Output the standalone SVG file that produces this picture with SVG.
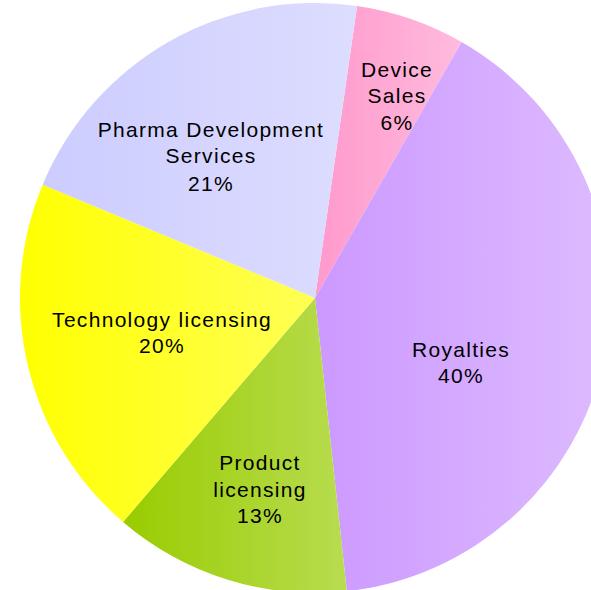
<svg xmlns="http://www.w3.org/2000/svg" width="591" height="590" viewBox="0 0 591 590">
<defs>
<linearGradient id="gPharma" x1="0" y1="0" x2="1" y2="0"><stop offset="0" stop-color="#CCCCFF"/><stop offset="1" stop-color="#DDDDFF"/></linearGradient>
<linearGradient id="gDevice" x1="0" y1="0" x2="1" y2="0"><stop offset="0" stop-color="#FF99CC"/><stop offset="1" stop-color="#FFBBDD"/></linearGradient>
<linearGradient id="gRoyal" x1="0" y1="0" x2="1" y2="0"><stop offset="0" stop-color="#CC99FF"/><stop offset="1" stop-color="#DDBBFF"/></linearGradient>
<linearGradient id="gTech" x1="0" y1="0" x2="1" y2="0"><stop offset="0" stop-color="#FFFF00"/><stop offset="1" stop-color="#FFFF55"/></linearGradient>
<linearGradient id="gProd" x1="0" y1="0" x2="1" y2="0"><stop offset="0" stop-color="#99CC00"/><stop offset="1" stop-color="#B8DC50"/></linearGradient>
</defs>
<style>
text{font-family:"Liberation Sans",Arial,sans-serif;font-size:21px;letter-spacing:1.3px;fill:#000;text-anchor:middle}
</style>
<rect width="591" height="590" fill="#ffffff"/>
<g id="device-sales">
<path d="M315,298 L357.08,6.01 A295,295 0 0 1 461.61,42.01 Z" fill="url(#gDevice)"/>
<text x="397" y="76.7">Device</text>
<text x="397" y="102.7">Sales</text>
<text x="397" y="130">6%</text>
</g>
<g id="royalties">
<path d="M315,298 L461.61,42.01 A295,295 0 0 1 346.86,591.27 Z" fill="url(#gRoyal)"/>
<text x="461" y="356.7">Royalties</text>
<text x="461" y="383.3">40%</text>
</g>
<g id="product-licensing">
<path d="M315,298 L346.86,591.27 A295,295 0 0 1 123.02,521.98 Z" fill="url(#gProd)"/>
<text x="260" y="470">Product</text>
<text x="260" y="496.7">licensing</text>
<text x="260" y="523.3">13%</text>
</g>
<g id="technology-licensing">
<path d="M315,298 L123.02,521.98 A295,295 0 0 1 42.65,184.63 Z" fill="url(#gTech)"/>
<text x="162" y="326.7">Technology licensing</text>
<text x="162" y="353.3">20%</text>
</g>
<g id="pharma-development-services">
<path d="M315,298 L42.65,184.63 A295,295 0 0 1 357.08,6.01 Z" fill="url(#gPharma)"/>
<text x="211" y="136.7">Pharma Development</text>
<text x="211" y="163.3">Services</text>
<text x="211" y="190.7">21%</text>
</g>
<g id="connectors"/>
</svg>
